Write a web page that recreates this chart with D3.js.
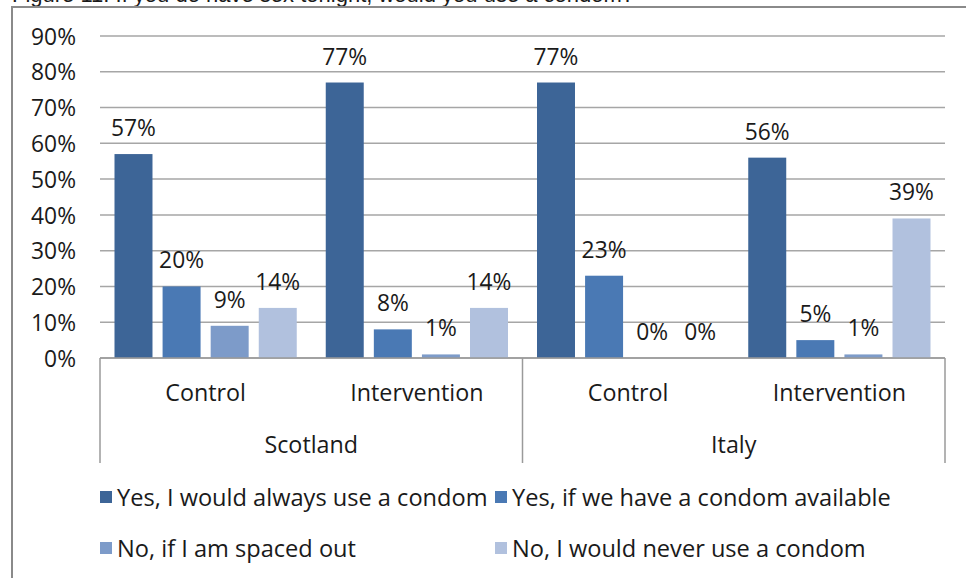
<!DOCTYPE html>
<html>
<head>
<meta charset="utf-8">
<script src="https://cdn.jsdelivr.net/npm/d3@7"></script>
<style>
  html, body { margin: 0; padding: 0; background: #fff; }
  svg { display: block; }
  text { font-family: "Open Sans", sans-serif; fill: #1a1a1a; }
</style>
</head>
<body>
<svg id="chart" width="966" height="578"></svg>
<script>
// Country / group pairs along the category axis
const countries = ["Scotland", "Italy"];
const groups = ["Control", "Intervention"];
const categories = [
  ["Scotland", "Control"],
  ["Scotland", "Intervention"],
  ["Italy", "Control"],
  ["Italy", "Intervention"]
];

// Answer series (percent of respondents), one value per category
const seriesNames = [
  "Yes, I would always use a condom",
  "Yes, if we have a condom available",
  "No, if I am spaced out",
  "No, I would never use a condom"
];
const alwaysUse = [57, 77, 77, 56];
const ifAvailable = [20, 8, 23, 5];
const spacedOut = [9, 1, 0, 1];
const neverUse = [14, 14, 0, 39];
const seriesValues = [alwaysUse, ifAvailable, spacedOut, neverUse];

const yTicks = [0, 10, 20, 30, 40, 50, 60, 70, 80, 90];
const seriesColors = ["#3d6597", "#4a79b4", "#7d9bc9", "#b1c1de"];

const titleText = "Figure 11: If you do have sex tonight, would you use a condom?";

const svg = d3.select("#chart");

// Title line sitting above the frame (runs off the top of the page)
svg.append("text")
  .attr("x", 12).attr("y", 2)
  .style("font-family", "'Liberation Sans', Arial, sans-serif")
  .style("font-size", "22px")
  .text(titleText);

// Chart frame
svg.append("rect")
  .attr("x", 12).attr("y", 7)
  .attr("width", 980).attr("height", 600)
  .attr("fill", "#fff")
  .attr("stroke", "#8a8a8a")
  .attr("stroke-width", 2);

const plotLeft = 100, plotRight = 945;
const y = d3.scaleLinear().domain([0, 90]).range([358, 36]);

const x0 = d3.scaleBand()
  .domain(d3.range(categories.length))
  .range([plotLeft, plotRight])
  .paddingInner(0).paddingOuter(0);

const x1 = d3.scaleBand()
  .domain(d3.range(seriesNames.length))
  .range([14.5, x0.bandwidth() - 14.5])
  .paddingInner(0.21).paddingOuter(0);

// Horizontal gridlines
svg.append("g")
  .selectAll("line")
  .data(yTicks)
  .join("line")
  .attr("x1", plotLeft).attr("x2", plotRight)
  .attr("y1", d => y(d)).attr("y2", d => y(d))
  .attr("stroke", "#a6a6a6")
  .attr("stroke-width", 1.5);

// Y axis labels
const yAxis = d3.axisLeft(y)
  .tickValues(yTicks)
  .tickFormat(d => d + "%")
  .tickSize(0)
  .tickPadding(0);
const yg = svg.append("g")
  .attr("transform", "translate(76,0)")
  .call(yAxis);
yg.select(".domain").remove();
yg.selectAll("text")
  .style("font-family", "'Open Sans', sans-serif")
  .style("font-size", "22.8px")
  .attr("fill", "#1a1a1a")
  .attr("dy", "0.36em");

// Bars
const catG = svg.append("g")
  .selectAll("g")
  .data(categories)
  .join("g")
  .attr("transform", (d, i) => `translate(${x0(i)},0)`);

catG.selectAll("rect")
  .data((d, ci) => seriesValues.map((vals, si) => ({ si, v: vals[ci] })))
  .join("rect")
  .attr("x", d => x1(d.si))
  .attr("width", x1.bandwidth())
  .attr("y", d => y(d.v))
  .attr("height", d => y(0) - y(d.v))
  .attr("fill", d => seriesColors[d.si]);

// Value labels
catG.selectAll("text.val")
  .data((d, ci) => seriesValues.map((vals, si) => ({ si, v: vals[ci] })))
  .join("text")
  .attr("class", "val")
  .attr("x", d => x1(d.si) + x1.bandwidth() / 2)
  .attr("y", d => y(d.v) - 18)
  .attr("text-anchor", "middle")
  .style("font-size", "22.8px")
  .text(d => d.v + "%");

// Category axis: baseline, separators, two label levels
const axisColor = "#9a9a9a";
svg.append("line")
  .attr("x1", plotLeft).attr("x2", plotRight)
  .attr("y1", y(0)).attr("y2", y(0))
  .attr("stroke", axisColor).attr("stroke-width", 1.5);

const sepX = [plotLeft, x0(2), plotRight];
svg.append("g")
  .selectAll("line")
  .data(sepX)
  .join("line")
  .attr("x1", d => d).attr("x2", d => d)
  .attr("y1", y(0)).attr("y2", 463)
  .attr("stroke", axisColor).attr("stroke-width", 1.5);

svg.append("g")
  .selectAll("text")
  .data(categories)
  .join("text")
  .attr("x", (d, i) => x0(i) + x0.bandwidth() / 2)
  .attr("y", 401)
  .attr("text-anchor", "middle")
  .style("font-size", "23.3px")
  .text(d => d[1]);

svg.append("g")
  .selectAll("text")
  .data(countries)
  .join("text")
  .attr("x", (d, i) => x0(i * 2) + x0.bandwidth())
  .attr("y", 453)
  .attr("text-anchor", "middle")
  .style("font-size", "23.3px")
  .text(d => d);

// Legend, two columns by two rows
const legendCols = [100, 495];
const legendRows = [497, 548];
const lg = svg.append("g")
  .selectAll("g")
  .data(seriesNames)
  .join("g")
  .attr("transform", (d, i) => `translate(${legendCols[i % 2]},${legendRows[Math.floor(i / 2)]})`);

lg.append("rect")
  .attr("x", 0).attr("y", -6)
  .attr("width", 12).attr("height", 12)
  .attr("fill", (d, i) => seriesColors[i]);

lg.append("text")
  .attr("x", 17).attr("y", 0)
  .attr("dy", "0.36em")
  .style("font-size", "23.6px")
  .text(d => d);
</script>
</body>
</html>
